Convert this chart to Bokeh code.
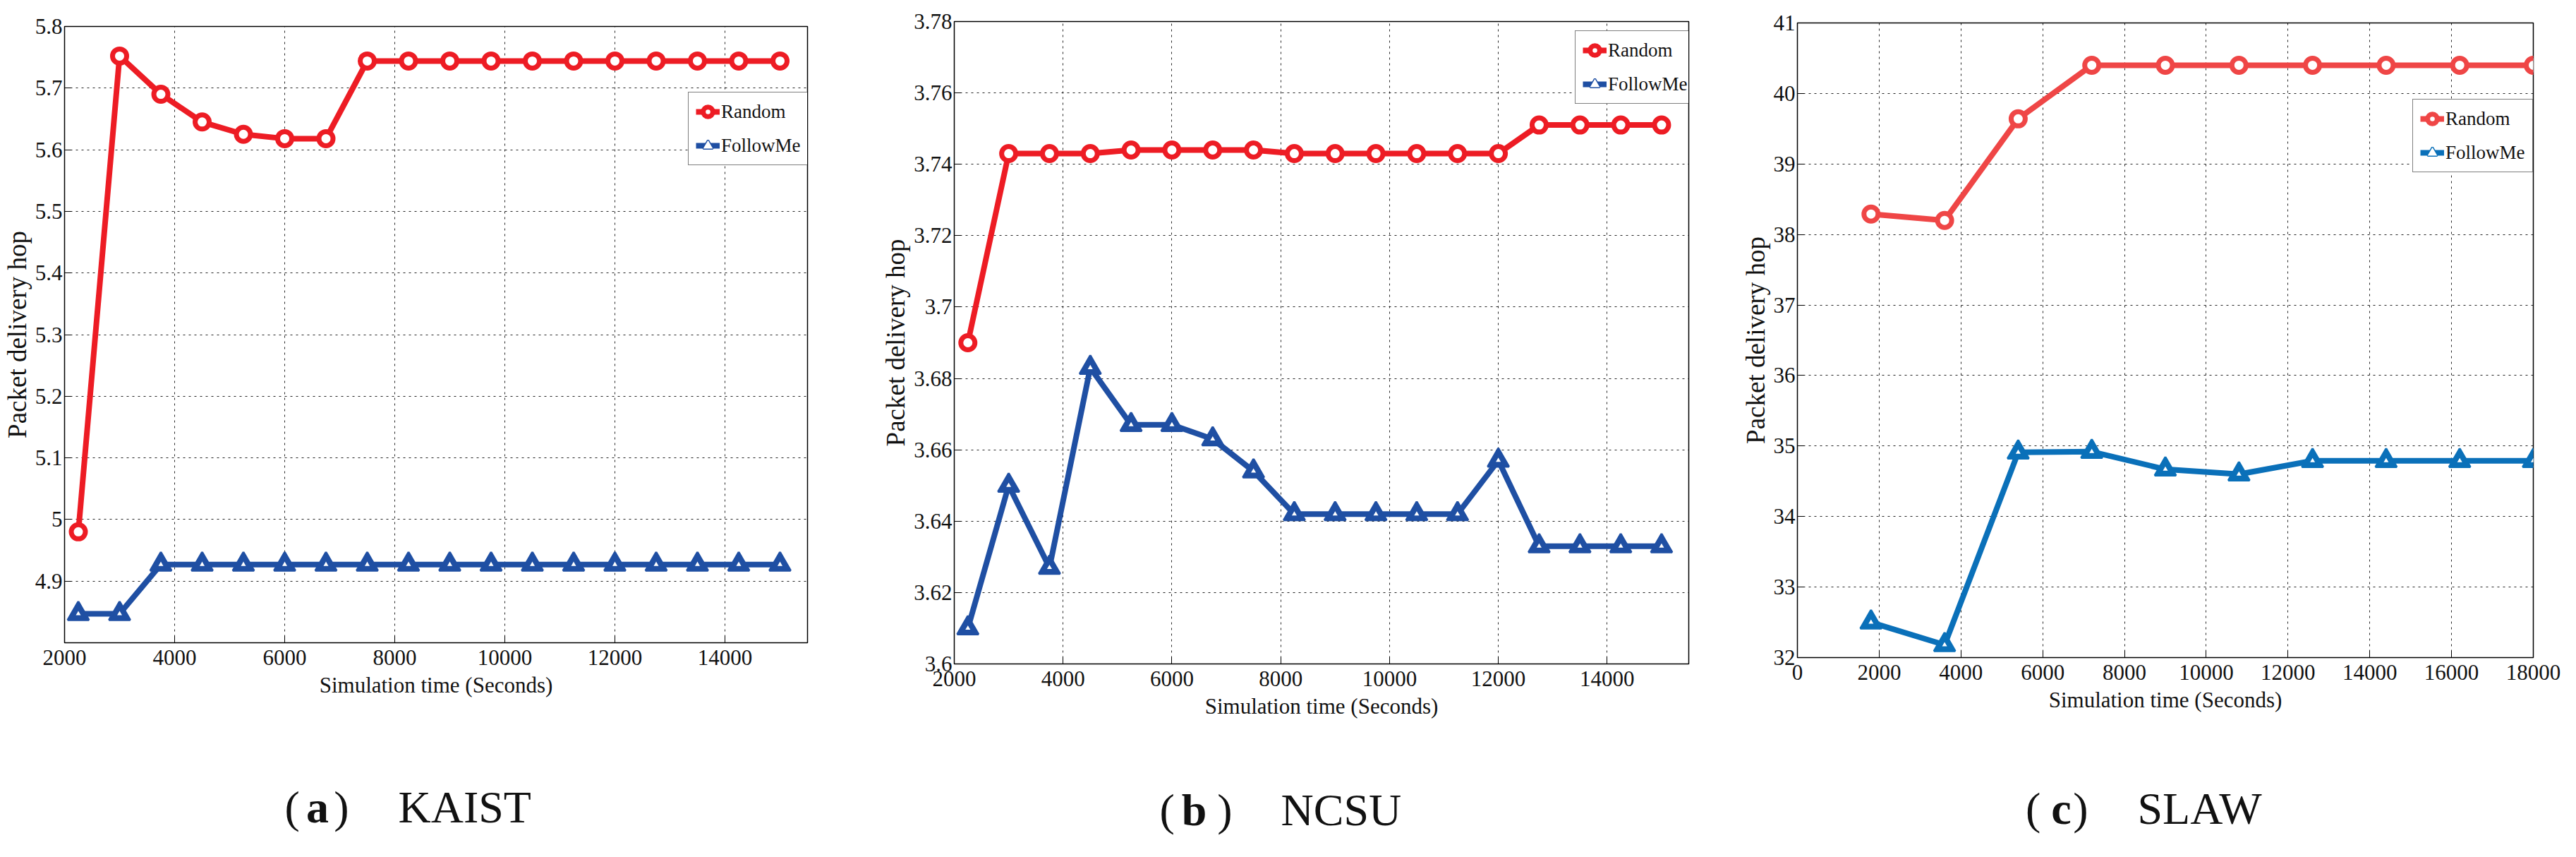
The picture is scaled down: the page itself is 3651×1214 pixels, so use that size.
from bokeh.plotting import figure
from bokeh.layouts import row, column
from bokeh.models import (FixedTicker, Range1d, Legend, LegendItem, Label,
                          CustomJSTickFormatter)
from bokeh.embed import file_html
from bokeh.resources import INLINE

# ---------------- data ----------------
kaist_time = [2250, 3000, 3750, 4500, 5250, 6000, 6750, 7500, 8250, 9000,
              9750, 10500, 11250, 12000, 12750, 13500, 14250, 15000]
kaist_random = [4.98, 5.752, 5.69, 5.645, 5.625, 5.618, 5.618, 5.744, 5.744, 5.744,
                5.744, 5.744, 5.744, 5.744, 5.744, 5.744, 5.744, 5.744]
kaist_followme = [4.847, 4.847, 4.927, 4.927, 4.927, 4.927, 4.927, 4.927, 4.927, 4.927,
                  4.927, 4.927, 4.927, 4.927, 4.927, 4.927, 4.927, 4.927]
kaist_xticks = [2000, 4000, 6000, 8000, 10000, 12000, 14000]
kaist_yticks = [4.9, 5.0, 5.1, 5.2, 5.3, 5.4, 5.5, 5.6, 5.7, 5.8]

ncsu_time = [2250, 3000, 3750, 4500, 5250, 6000, 6750, 7500, 8250, 9000,
             9750, 10500, 11250, 12000, 12750, 13500, 14250, 15000]
ncsu_random = [3.690, 3.743, 3.743, 3.743, 3.744, 3.744, 3.744, 3.744, 3.743, 3.743,
               3.743, 3.743, 3.743, 3.743, 3.751, 3.751, 3.751, 3.751]
ncsu_followme = [3.610, 3.650, 3.627, 3.683, 3.667, 3.667, 3.663, 3.654, 3.642, 3.642,
                 3.642, 3.642, 3.642, 3.657, 3.633, 3.633, 3.633, 3.633]
ncsu_xticks = [2000, 4000, 6000, 8000, 10000, 12000, 14000]
ncsu_yticks = [3.60, 3.62, 3.64, 3.66, 3.68, 3.70, 3.72, 3.74, 3.76, 3.78]

slaw_time = [1800, 3600, 5400, 7200, 9000, 10800, 12600, 14400, 16200, 18000]
slaw_random = [38.29, 38.20, 39.64, 40.40, 40.40, 40.40, 40.40, 40.40, 40.40, 40.40]
slaw_followme = [32.50, 32.18, 34.91, 34.92, 34.67, 34.60, 34.79, 34.79, 34.79, 34.79]
slaw_xticks = [0, 2000, 4000, 6000, 8000, 10000, 12000, 14000, 16000, 18000]
slaw_yticks = [32, 33, 34, 35, 36, 37, 38, 39, 40, 41]

series_names = ["Random", "FollowMe"]
x_label = "Simulation time (Seconds)"
y_label = "Packet delivery hop"

FONT = "Liberation Serif"
BOTTOM = 110  # bottom border of each chart (axis area)
TOTAL_H = 1198

panels = [
    dict(time=kaist_time, rnd=kaist_random, fm=kaist_followme,
         xr=(2000, 15500), yr=(4.8, 5.8), xt=kaist_xticks, yt=kaist_yticks,
         fw=1053, fh=873, bl=85, br=74, bt=37,
         red="#ED1C24", blue="#1F4FA3", leg=(884, 676),
         tag="a", name="KAIST", cap=(312, 358.5, 403, 473, 233)),
    dict(time=ncsu_time, rnd=ncsu_random, fm=ncsu_followme,
         xr=(2000, 15500), yr=(3.6, 3.78), xt=ncsu_xticks, yt=ncsu_yticks,
         fw=1041, fh=910, bl=134, br=45, bt=30,
         red="#ED1C24", blue="#1F4FA3", leg=(880, 793),
         tag="b", name="NCSU", cap=(291, 340, 394, 463, 207)),
    dict(time=slaw_time, rnd=slaw_random, fm=slaw_followme,
         xr=(0, 18000), yr=(32, 41), xt=slaw_xticks, yt=slaw_yticks,
         fw=1043, fh=899, bl=109, br=51, bt=32,
         red="#EF4646", blue="#0A70B9", leg=(872, 687),
         tag="c", name="SLAW", cap=(323.5, 374, 412, 482, 214)),
]

fmt_code = "return String(parseFloat(tick.toFixed(4)));"


def make_panel(d):
    p = figure(frame_width=d["fw"], frame_height=d["fh"],
               min_border_left=d["bl"], min_border_right=d["br"],
               min_border_top=d["bt"], min_border_bottom=BOTTOM,
               x_range=Range1d(*d["xr"]), y_range=Range1d(*d["yr"]),
               output_backend="svg", toolbar_location=None,
               background_fill_color="white", border_fill_color="white")
    p.outline_line_color = "black"
    p.outline_line_width = 1.5

    p.xaxis.ticker = FixedTicker(ticks=d["xt"])
    p.yaxis.ticker = FixedTicker(ticks=d["yt"])
    p.xaxis.formatter = CustomJSTickFormatter(code=fmt_code)
    p.yaxis.formatter = CustomJSTickFormatter(code=fmt_code)
    for ax in (p.xaxis, p.yaxis):
        ax.major_tick_in = 10
        ax.major_tick_out = 0
        ax.minor_tick_line_color = None
        ax.axis_line_color = "black"
        ax.major_tick_line_color = "black"
        ax.major_label_text_font = FONT
        ax.major_label_text_font_size = "31px"
        ax.major_label_text_color = "#111111"
        ax.axis_label_text_font = FONT
        ax.axis_label_text_font_style = "normal"
        ax.axis_label_text_color = "#111111"
    p.xaxis.axis_label = x_label
    p.xaxis.axis_label_text_font_size = "31px"
    p.xaxis.major_label_standoff = 10
    p.xaxis.axis_label_standoff = 8
    p.yaxis.axis_label = y_label
    p.yaxis.axis_label_text_font_size = "37px"
    p.yaxis.major_label_standoff = 3
    p.yaxis.axis_label_standoff = 2

    for g in (p.xgrid, p.ygrid):
        g.grid_line_color = "black"
        g.grid_line_alpha = 0.85
        g.grid_line_width = 1
        g.grid_line_dash = "3 5"

    lr = p.line(d["time"], d["rnd"], line_color=d["red"], line_width=8)
    sr = p.scatter(d["time"], d["rnd"], marker="circle", size=20,
                   line_color=d["red"], line_width=7, fill_color="white")
    lf = p.line(d["time"], d["fm"], line_color=d["blue"], line_width=8)
    sf = p.scatter(d["time"], d["fm"], marker="triangle", size=30,
                   line_color=d["blue"], line_width=3, fill_color=d["blue"])
    sf2 = p.scatter(d["time"], d["fm"], marker="triangle", size=7,
                    line_color=None, fill_color="white")

    legend = Legend(items=[LegendItem(label=series_names[0], renderers=[lr, sr]),
                           LegendItem(label=series_names[1], renderers=[lf, sf, sf2])],
                    location=d["leg"])
    legend.label_text_font = FONT
    legend.label_text_font_size = "27px"
    legend.label_text_color = "#111111"
    legend.border_line_color = "black"
    legend.border_line_width = 1
    legend.background_fill_color = "white"
    legend.background_fill_alpha = 1
    legend.glyph_width = 34
    legend.glyph_height = 34
    legend.label_height = 34
    legend.label_standoff = 2
    legend.spacing = 14
    legend.padding = 10
    legend.margin = 0
    p.add_layout(legend, "center")

    # caption strip beneath the chart, with the same side borders as the chart
    H = TOTAL_H - (d["bt"] + d["fh"] + BOTTOM)
    c = figure(frame_width=d["fw"], frame_height=H,
               min_border_left=d["bl"], min_border_right=d["br"],
               min_border_top=0, min_border_bottom=0,
               x_range=Range1d(0, d["fw"]), y_range=Range1d(0, H),
               x_axis_location=None, y_axis_location=None,
               output_backend="svg", toolbar_location=None,
               background_fill_color="white", border_fill_color="white")
    c.outline_line_color = None
    c.grid.visible = False
    lp, cc, rp, nl, below = d["cap"]
    ym = H - (below - BOTTOM)
    common = dict(y=ym, text_font=FONT, text_font_size="64px",
                  text_color="#111111", text_baseline="middle")
    c.add_layout(Label(x=lp, text="(", text_align="left", **common))
    c.add_layout(Label(x=cc, text=d["tag"], text_align="center",
                       text_font_style="bold", **common))
    c.add_layout(Label(x=rp, text=")", text_align="right", **common))
    c.add_layout(Label(x=nl, text=d["name"], text_align="left", **common))
    return column(p, c, spacing=0)


cols = [make_panel(d) for d in panels]
layout = row(*cols, spacing=0)

open("out.html", "w").write(file_html(layout, INLINE))
